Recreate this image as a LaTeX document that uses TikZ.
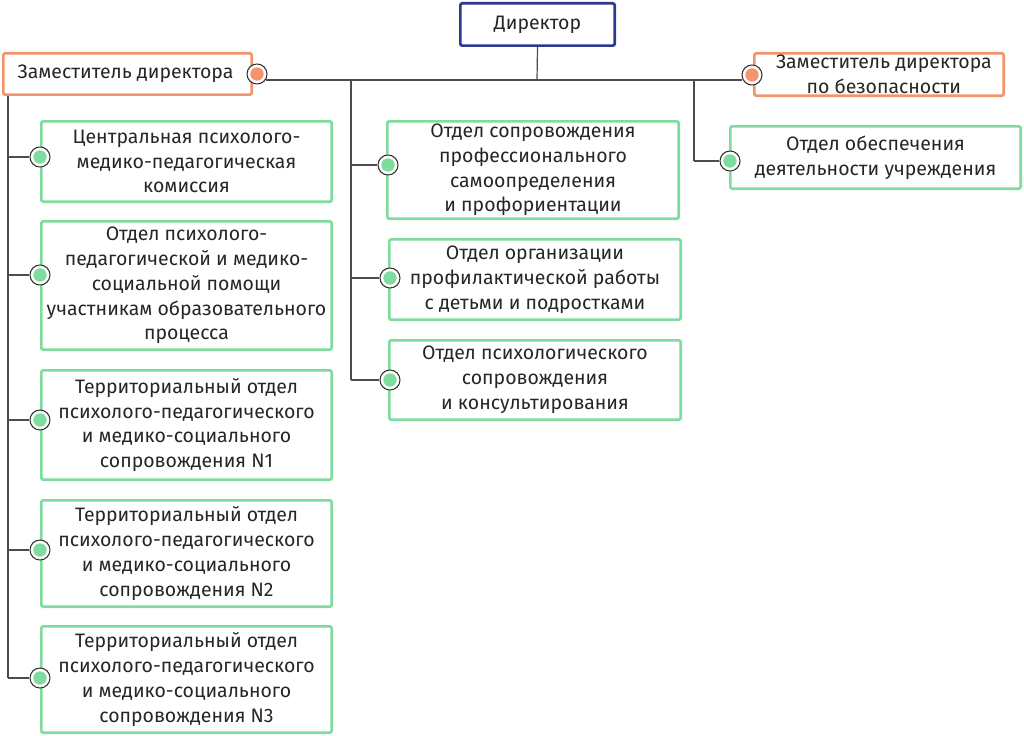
\documentclass[tikz,border=0pt]{standalone}
\usepackage{fontspec}
\setmainfont{Fira Sans}
\begin{document}
\begin{tikzpicture}[x=0.75pt,y=-0.75pt,
  box/.style={draw=#1,line width=2pt,rounded corners=1.5pt,align=center,inner sep=1pt,font=\fontsize{14.6}{18.6}\selectfont,text=black!85},
  ln/.style={draw=black!70,line width=0.9pt},
  dot/.style={circle,draw=black!80,fill=white,line width=0.8pt,minimum size=15pt,inner sep=0pt,
    path picture={\fill[#1] (path picture bounding box.center) circle (5pt);}}]
\definecolor{gr}{HTML}{7EDC9E}\definecolor{org}{HTML}{F4946C}\definecolor{nav}{HTML}{2B3A8C}
\useasboundingbox (0,0) rectangle (1024,735);
\newcommand\bx[6]{\node[box=#6,minimum width=#3*0.75pt-2pt,minimum height=#4*0.75pt-2pt,anchor=north west] (#1) at (#2) {#5};}
\bx{dir}{459,2}{157}{45}{Директор}{nav}
\bx{dl}{2,52}{251}{44}{Заместитель директора\hspace{0.2em}}{org}
\bx{dr}{753,52}{252}{45}{\hspace{0.5em}Заместитель директора\\\hspace{0.5em}по безопасности}{org}
\bx{l1}{40,120}{293}{83}{Центральная психолого-\\медико-педагогическая\\комиссия}{gr}
\bx{l2}{40,220}{293}{131}{Отдел психолого-\\педагогической и медико-\\социальной помощи\\участникам образовательного\\процесса}{gr}
\bx{l3}{40,369}{293}{112}{Территориальный отдел\\психолого-педагогического\\и медико-социального\\сопровождения N1}{gr}
\bx{l4}{40,499}{293}{109}{Территориальный отдел\\психолого-педагогического\\и медико-социального\\сопровождения N2}{gr}
\bx{l5}{40,625}{293}{109}{Территориальный отдел\\психолого-педагогического\\и медико-социального\\сопровождения N3}{gr}
\bx{m1}{386,120}{294}{100}{Отдел сопровождения\\профессионального\\самоопределения\\и профориентации}{gr}
\bx{m2}{388,238}{294}{83}{Отдел организации\\профилактической работы\\с детьми и подростками}{gr}
\bx{m3}{388,339}{294}{82}{Отдел психологического\\сопровождения\\и консультирования}{gr}
\bx{r1}{729,125}{293}{65}{Отдел обеспечения\\деятельности учреждения}{gr}
% junctions
\coordinate (j0) at (537,80); \coordinate (jl) at (266,80); \coordinate (jr) at (742,80);
\coordinate (jm) at (351,80); \coordinate (jrr) at (694,80);
\coordinate (tl) at (8,96); \coordinate (tlb) at (8,678);
\coordinate (tm) at (351,380); \coordinate (tr) at (694,161);
\path[ln] (dir.south) -- (j0);
\path[ln] (jl) -- (jr);
\path[ln] (tl) -- (tlb);
\path[ln] (jm) -- (tm);
\path[ln] (jrr) -- (tr);
\node[dot=org] (ddl) at (257,74) {};
\node[dot=org] (ddr) at (752,75) {};
\foreach \n/\y in {l1/157,l2/275,l3/420,l4/550,l5/678}{
  \node[dot=gr] (d\n) at (40,\y) {};
  \path[ln] (8,\y) -- (d\n.west);}
\foreach \n/\y in {m1/165,m2/278,m3/380}{
  \node[dot=gr] (d\n) at ([xshift=1.5pt]\n.west |- 0,\y) {};
  \path[ln] (351,\y) -- (d\n.west);}
\node[dot=gr] (dr1) at (730,161) {};
\path[ln] (tr) -- (dr1.west);
\end{tikzpicture}
\end{document}
